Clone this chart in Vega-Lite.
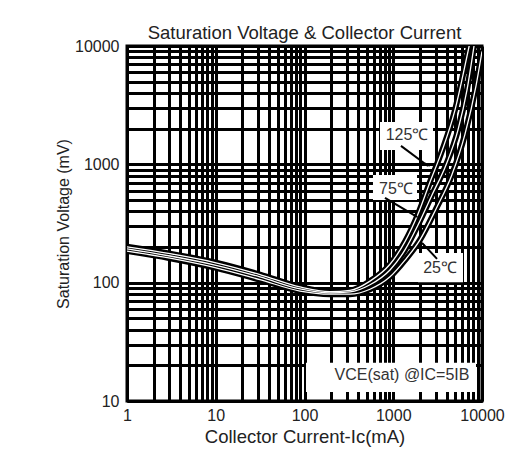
{
  "$schema": "https://vega.github.io/schema/vega-lite/v6.json",
  "width": 355,
  "height": 355,
  "autosize": "none",
  "padding": {"left": 127, "top": 46, "right": 50, "bottom": 59},
  "background": "white",
  "title": {"text": "Saturation Voltage & Collector Current", "fontSize": 18.5, "font": "Liberation Sans", "fontWeight": "normal", "color": "#222", "offset": -4, "anchor": "middle"},
  "config": {
    "view": {"stroke": "black", "strokeWidth": 3},
    "axis": {
      "grid": true, "gridColor": "black", "gridWidth": 3, "gridOpacity": 1,
      "ticks": false, "domainColor": "black", "domainWidth": 3,
      "labelFont": "Liberation Sans", "labelFontSize": 16, "labelColor": "#222",
      "labelOverlap": false, "labelBound": false, "labelFlush": false,
      "titleFont": "Liberation Sans", "titleFontSize": 16, "titleFontWeight": "normal", "titleColor": "#222"
    }
  },
  "datasets": {
    "curves": [
      {"temp": "125", "x": 1, "y": 201}, {"temp": "125", "x": 3.05, "y": 176}, {"temp": "125", "x": 9.8, "y": 148},
      {"temp": "125", "x": 31.5, "y": 117}, {"temp": "125", "x": 89, "y": 92}, {"temp": "125", "x": 194, "y": 84},
      {"temp": "125", "x": 326, "y": 86}, {"temp": "125", "x": 547, "y": 103}, {"temp": "125", "x": 919, "y": 143},
      {"temp": "125", "x": 1356, "y": 222}, {"temp": "125", "x": 1900, "y": 380}, {"temp": "125", "x": 2595, "y": 710},
      {"temp": "125", "x": 3542, "y": 1300}, {"temp": "125", "x": 4963, "y": 2884}, {"temp": "125", "x": 6108, "y": 5697},
      {"temp": "125", "x": 7325, "y": 10800},
      {"temp": "75", "x": 1, "y": 193}, {"temp": "75", "x": 3.05, "y": 168}, {"temp": "75", "x": 9.8, "y": 141},
      {"temp": "75", "x": 31.5, "y": 112}, {"temp": "75", "x": 89, "y": 88.5}, {"temp": "75", "x": 194, "y": 82},
      {"temp": "75", "x": 326, "y": 83.5}, {"temp": "75", "x": 547, "y": 96}, {"temp": "75", "x": 919, "y": 128},
      {"temp": "75", "x": 1356, "y": 189}, {"temp": "75", "x": 1900, "y": 307}, {"temp": "75", "x": 2733, "y": 551},
      {"temp": "75", "x": 3930, "y": 988}, {"temp": "75", "x": 5365, "y": 1954}, {"temp": "75", "x": 6776, "y": 4255},
      {"temp": "75", "x": 8126, "y": 10000},
      {"temp": "25", "x": 1, "y": 185}, {"temp": "25", "x": 3.05, "y": 161}, {"temp": "25", "x": 9.8, "y": 134},
      {"temp": "25", "x": 31.5, "y": 106}, {"temp": "25", "x": 89, "y": 85}, {"temp": "25", "x": 194, "y": 80},
      {"temp": "25", "x": 326, "y": 80}, {"temp": "25", "x": 547, "y": 88}, {"temp": "25", "x": 919, "y": 112},
      {"temp": "25", "x": 1356, "y": 155}, {"temp": "25", "x": 2001, "y": 230}, {"temp": "25", "x": 3032, "y": 420},
      {"temp": "25", "x": 4592, "y": 820}, {"temp": "25", "x": 6434, "y": 1800}, {"temp": "25", "x": 8560, "y": 4600},
      {"temp": "25", "x": 10000, "y": 9000}
    ],
    "boxes": [
      {"x": 709, "x2": 2805, "y": 1324, "y2": 2281},
      {"x": 591, "x2": 1853, "y": 500, "y2": 813},
      {"x": 1900, "x2": 6108, "y": 101, "y2": 178},
      {"x": 104, "x2": 8560, "y": 11.9, "y2": 21}
    ],
    "labels": [
      {"x": 1429, "y": 1772, "text": "125℃"},
      {"x": 1074, "y": 619, "text": "75℃"},
      {"x": 3365, "y": 133, "text": "25℃"},
      {"x": 1255, "y": 16.6, "text": "VCE(sat) @IC=5IB"}
    ],
    "arrows": [
      {"temp": "125", "x": 1222, "y": 1431, "x2": 2464, "y2": 969},
      {"temp": "75", "x": 807, "y": 520, "x2": 1853, "y2": 359},
      {"temp": "25", "x": 3112, "y": 159, "x2": 2109, "y2": 217}
    ],
    "heads": [
      {"temp": "125", "x": 2380, "y": 995},
      {"temp": "75", "x": 1780, "y": 368},
      {"temp": "25", "x": 2170, "y": 211}
    ]
  },
  "encoding": {
    "x": {"field": "x", "type": "quantitative", "scale": {"type": "log", "domain": [1, 10000], "nice": false},
      "axis": {"title": "Collector Current-Ic(mA)", "labelPadding": 6, "titlePadding": 4, "titleFontSize": 18.5,
        "values": [1,2,3,4,5,6,7,8,9,10,20,30,40,50,60,70,80,90,100,200,300,400,500,600,700,800,900,1000,2000,3000,4000,5000,6000,7000,8000,9000,10000],
        "labelExpr": "indexof([1,10,100,1000,10000], datum.value) >= 0 ? format(datum.value, 'd') : ''"}},
    "y": {"field": "y", "type": "quantitative", "scale": {"type": "log", "domain": [10, 10000], "nice": false},
      "axis": {"title": "Saturation Voltage (mV)", "labelPadding": 8, "titlePadding": 3,
        "values": [10,20,30,40,50,60,70,80,90,100,200,300,400,500,600,700,800,900,1000,2000,3000,4000,5000,6000,7000,8000,9000,10000],
        "labelExpr": "indexof([10,100,1000,10000], datum.value) >= 0 ? format(datum.value, 'd') : ''"}}
  },
  "layer": [
    {"data": {"name": "curves"}, "mark": {"type": "line", "color": "black", "strokeWidth": 6, "interpolate": "monotone", "clip": true},
      "encoding": {"detail": {"field": "temp"}}},
    {"data": {"name": "curves"}, "mark": {"type": "line", "color": "white", "strokeWidth": 1.3, "interpolate": "monotone", "clip": true},
      "encoding": {"detail": {"field": "temp"}}},
    {"data": {"name": "boxes"}, "mark": {"type": "rect", "color": "white", "opacity": 1},
      "encoding": {"x2": {"field": "x2"}, "y2": {"field": "y2"}}},
    {"data": {"name": "arrows"}, "mark": {"type": "rule", "color": "black", "strokeWidth": 2},
      "encoding": {"x2": {"field": "x2"}, "y2": {"field": "y2"}}},
    {"data": {"name": "heads"}, "transform": [{"filter": "datum.temp == '125'"}],
      "mark": {"type": "point", "shape": "wedge", "filled": true, "color": "black", "opacity": 1, "size": 60, "angle": 126}, "encoding": {}},
    {"data": {"name": "heads"}, "transform": [{"filter": "datum.temp == '75'"}],
      "mark": {"type": "point", "shape": "wedge", "filled": true, "color": "black", "opacity": 1, "size": 60, "angle": 121}, "encoding": {}},
    {"data": {"name": "heads"}, "transform": [{"filter": "datum.temp == '25'"}],
      "mark": {"type": "point", "shape": "wedge", "filled": true, "color": "black", "opacity": 1, "size": 60, "angle": 317}, "encoding": {}},
    {"data": {"name": "labels"}, "mark": {"type": "text", "font": "Liberation Sans", "fontSize": 16, "color": "#333", "align": "center", "baseline": "middle"},
      "encoding": {"text": {"field": "text"}}}
  ]
}
